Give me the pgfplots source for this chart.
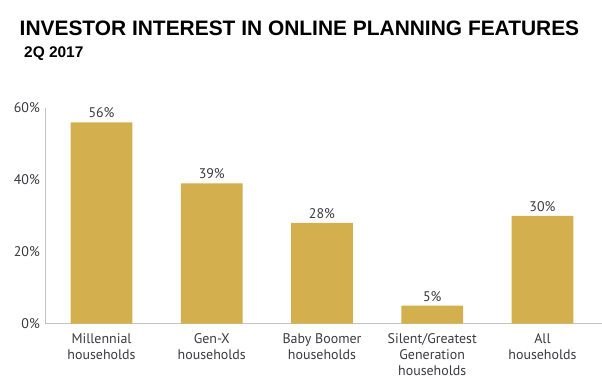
\documentclass[border=0pt]{standalone}
\usepackage{pgfplots}
\pgfplotsset{compat=1.18}
\usepackage{fontspec}
\setmainfont{Liberation Sans}
\newfontfamily\labfont{PT Sans}
\definecolor{gold}{RGB}{211,176,77}
\definecolor{axgray}{RGB}{195,195,195}
\definecolor{txt}{RGB}{58,58,64}
\begin{document}
\begin{tikzpicture}
\useasboundingbox (0bp,0bp) rectangle (602bp,386bp);
\node[anchor=base west, inner sep=0, font=\bfseries\fontsize{21}{22}\selectfont] at (19.5bp,350bp) {INVESTOR INTEREST IN ONLINE PLANNING FEATURES};
\node[anchor=base west, inner sep=0, font=\bfseries\fontsize{15.5}{16}\selectfont] at (24bp,328.7bp) {2Q 2017};
\begin{axis}[
  at={(45.5bp,62.5bp)}, anchor=south west,
  width=556.5bp, height=215.5bp, scale only axis,
  xmin=-0.508, xmax=4.54, ymin=0, ymax=60,
  axis lines=left,
  axis line style={-, draw=axgray, line width=1.2bp},
  major tick length=0,
  ytick={0,20,40,60},
  yticklabels={0\%,20\%,40\%,60\%},
  yticklabel style={anchor=east, inner sep=0pt, xshift=-5.5bp, font=\labfont\fontsize{14}{16}\selectfont, text=txt},
  xtick={0,1,2,3,4},
  xticklabels={{Millennial\\households},{Gen-X\\households},{Baby Boomer\\households},{Silent/Greatest\\Generation\\households},{All\\households}},
  xticklabel style={anchor=north, inner sep=0pt, yshift=-9.5bp, align=center, font=\labfont\fontsize{14}{16}\selectfont, text=txt},
  ybar, bar width=61.6bp,
  /pgf/number format/assume math mode=true,
  nodes near coords={\pgfmathprintnumber{\pgfplotspointmeta}\%},
  nodes near coords style={anchor=base, inner sep=0pt, yshift=4.5bp, font=\labfont\fontsize{14}{16}\selectfont, text=txt},
  clip=false,
]
\addplot[fill=gold, draw=none] coordinates {(0,56) (1,39) (2,28) (3,5) (4,30)};
\end{axis}
\end{tikzpicture}
\end{document}
